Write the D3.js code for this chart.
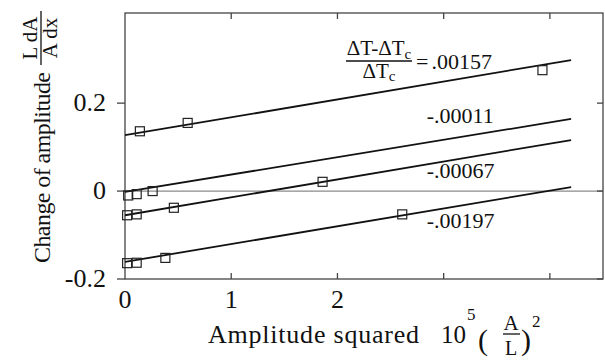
<!DOCTYPE html>
<html>
<head>
<meta charset="utf-8">
<script src="https://cdn.jsdelivr.net/npm/d3@7"></script>
<style>
  body { margin: 0; background: #fff; }
</style>
</head>
<body>
<div id="chart"></div>
<script>
// values
const seriesLabels = [".00157", "-.00011", "-.00067", "-.00197"];
const fitStart = [0.127, -0.002, -0.055, -0.161];   // fitted line at x = 0
const fitEnd = [0.298, 0.164, 0.116, 0.009];        // fitted line at x = fitEndX
const fitEndX = 4.2;
const pointsX = [
    [0.14, 0.59, 3.93],
    [0.03, 0.11, 0.26],
    [0.02, 0.11, 0.46, 1.86],
    [0.02, 0.11, 0.38, 2.61]
];
const pointsY = [
    [0.136, 0.155, 0.275],
    [-0.010, -0.007, 0.000],
    [-0.055, -0.053, -0.038, 0.021],
    [-0.164, -0.163, -0.152, -0.053]
];
const xTicks = [1, 2, 3, 4];
const xTickLabels = [0, 1, 2];
const yTicks = [-0.2, 0, 0.2];
const yTickLabels = ["-0.2", "0", "0.2"];

const width = 605, height = 360;
const pL = 125, pR = 603, pT = 13, pB = 279;

const svg = d3.select("#chart").append("svg")
    .attr("width", width)
    .attr("height", height);

// every text goes through here so the serif face is set on the element itself
function txt(parent, px, yy, size, s) {
    return parent.append("text")
        .attr("x", px).attr("y", yy)
        .style("font-family", "'Liberation Serif'")
        .style("font-size", size + "px")
        .style("fill", "#111")
        .text(s);
}

const x = d3.scaleLinear().domain([0, 4.5]).range([pL, pR]);
const y = d3.scaleLinear().domain([-0.2, 0.405]).range([pB, pT]);

// zero line
svg.append("line")
    .attr("x1", pL).attr("x2", pR)
    .attr("y1", y(0)).attr("y2", y(0))
    .attr("stroke", "#8a8a8a").attr("stroke-width", 1.2);

// frame
svg.append("rect")
    .attr("x", pL).attr("y", pT)
    .attr("width", pR - pL).attr("height", pB - pT)
    .attr("fill", "none").attr("stroke", "#444").attr("stroke-width", 1.3);

// ticks: bottom/top inward, left outward, right inward
const tk = svg.append("g").attr("stroke", "#444").attr("stroke-width", 1.3);
xTicks.forEach(t => {
    tk.append("line").attr("x1", x(t)).attr("x2", x(t)).attr("y1", pB).attr("y2", pB - 6);
    tk.append("line").attr("x1", x(t)).attr("x2", x(t)).attr("y1", pT).attr("y2", pT + 6);
});
yTicks.forEach(t => {
    tk.append("line").attr("x1", pL - 8).attr("x2", pL).attr("y1", y(t)).attr("y2", y(t));
    tk.append("line").attr("x1", pR - 6).attr("x2", pR).attr("y1", y(t)).attr("y2", y(t));
});

xTickLabels.forEach(d => {
    txt(svg, x(d), 308, 26, d).attr("text-anchor", "middle");
});
yTicks.forEach((d, i) => {
    txt(svg, 106, y(d) + 8, 26, yTickLabels[i]).attr("text-anchor", "end");
});

// fitted lines
svg.selectAll(".fit").data(fitStart).enter().append("line")
    .attr("x1", x(0))
    .attr("y1", d => y(d))
    .attr("x2", x(fitEndX))
    .attr("y2", (d, i) => y(fitEnd[i]))
    .attr("stroke", "#111")
    .attr("stroke-width", 1.8);

// data squares
const sq = 9;
pointsX.forEach((xs, s) => {
    svg.selectAll(".p" + s).data(xs).enter().append("rect")
        .attr("x", d => x(d) - sq / 2)
        .attr("y", (d, i) => y(pointsY[s][i]) - sq / 2)
        .attr("width", sq).attr("height", sq)
        .attr("fill", "none")
        .attr("stroke", "#222")
        .attr("stroke-width", 1.2);
});

// series labels
const labelY = [null, 0.155, 0.030, -0.084];
for (let i = 1; i < seriesLabels.length; i++) {
    txt(svg, x(2.84), y(labelY[i]), 22, seriesLabels[i]);
}

// first label with fraction
const num = txt(svg, 379, 55, 21, "ΔT-ΔT").attr("text-anchor", "middle");
num.append("tspan").attr("dy", 4).style("font-size", "15px").text("c");
svg.append("line").attr("x1", 346).attr("x2", 412).attr("y1", 61).attr("y2", 61)
    .attr("stroke", "#111").attr("stroke-width", 1.3);
const den = txt(svg, 379, 78, 21, "ΔT").attr("text-anchor", "middle");
den.append("tspan").attr("dy", 3).style("font-size", "15px").text("c");
const eq = txt(svg, 416, 69, 22, "=");
eq.append("tspan").attr("dx", 3).text(seriesLabels[0]);

// x axis title
txt(svg, 208, 343, 26, "Amplitude squared")
    .attr("textLength", 211).attr("lengthAdjust", "spacing");
txt(svg, 441, 343, 25, "10");
txt(svg, 467, 320, 17, "5");
txt(svg, 478, 350, 30, "(");
txt(svg, 511, 330, 21, "A").attr("text-anchor", "middle");
svg.append("line").attr("x1", 503).attr("x2", 520).attr("y1", 334).attr("y2", 334)
    .attr("stroke", "#111").attr("stroke-width", 1.3);
txt(svg, 511, 355, 20, "L").attr("text-anchor", "middle");
txt(svg, 521, 350, 30, ")");
txt(svg, 532, 327, 17, "2");

// y axis title
const yt = svg.append("g").attr("transform", "rotate(-90)");
txt(yt, -263, 50, 24, "Change of amplitude")
    .attr("textLength", 191).attr("lengthAdjust", "spacing");
txt(yt, -38, 37, 21, "L dA").attr("text-anchor", "middle");
yt.append("line").attr("x1", -65).attr("x2", -11).attr("y1", 41).attr("y2", 41)
    .attr("stroke", "#111").attr("stroke-width", 1.3);
txt(yt, -38, 57, 21, "A dx").attr("text-anchor", "middle");
</script>
</body>
</html>
